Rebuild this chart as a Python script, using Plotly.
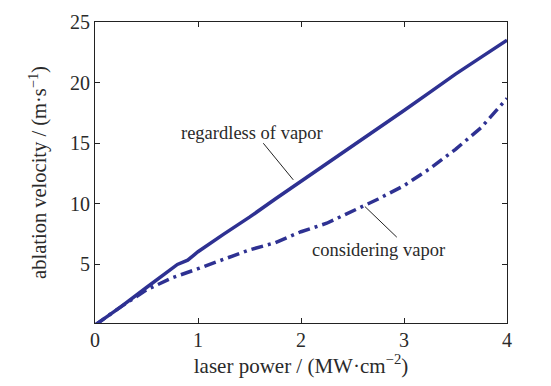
import plotly.graph_objects as go

# Data
power = [0, 0.1, 0.25, 0.5, 0.75, 0.8, 0.9, 1.0, 1.25, 1.5, 1.75, 2.0, 2.25, 2.5, 2.75, 3.0, 3.25, 3.5, 3.75, 4.0]
v_regardless = [0, 0.6, 1.5, 3.1, 4.7, 5.0, 5.35, 6.05, 7.5, 8.9, 10.4, 11.85, 13.3, 14.8, 16.2, 17.7, 19.2, 20.7, 22.1, 23.5]

power_c = [0, 0.1, 0.25, 0.5, 0.75, 1.0, 1.25, 1.5, 1.75, 2.0, 2.25, 2.5, 2.75, 3.0, 3.25, 3.5, 3.75, 4.0]
v_considering = [0, 0.6, 1.5, 2.9, 3.9, 4.65, 5.4, 6.2, 6.8, 7.7, 8.4, 9.4, 10.4, 11.5, 12.9, 14.5, 16.3, 18.7]

x_ticks = [0, 1, 2, 3, 4]
y_ticks = [5, 10, 15, 20, 25]

label_regardless = "regardless of vapor"
label_considering = "considering vapor"

color = "#2e3192"
serif = "Liberation Serif, Times New Roman, serif"
txt = "#2a2a2a"

fig = go.Figure()
fig.add_trace(go.Scatter(x=power, y=v_regardless, mode="lines",
                         line=dict(color=color, width=3.5), showlegend=False))
fig.add_trace(go.Scatter(x=power_c, y=v_considering, mode="lines",
                         line=dict(color=color, width=3.5, dash="12px,5px,3px,5px"),
                         showlegend=False))

# leader lines (data coordinates)
fig.add_shape(type="line", x0=1.634, y0=15.0, x1=1.925, y1=11.98, xref="x", yref="y",
              line=dict(color="#222222", width=1))
fig.add_shape(type="line", x0=2.93, y0=7.25, x1=2.62, y1=9.78, xref="x", yref="y",
              line=dict(color="#222222", width=1))

fig.add_annotation(x=1.524, y=15.87, text=label_regardless, showarrow=False,
                   font=dict(family=serif, size=18.5, color=txt))
fig.add_annotation(x=2.757, y=6.2, text=label_considering, showarrow=False,
                   font=dict(family=serif, size=18.5, color=txt))

axis_common = dict(showline=True, linecolor="#222222", linewidth=1, mirror="allticks",
                   ticks="inside", ticklen=5, tickcolor="#222222", showgrid=False,
                   zeroline=False, automargin=False,
                   tickfont=dict(family=serif, size=20, color=txt))

fig.update_xaxes(range=[0, 4], tickvals=x_ticks, ticktext=[str(v) for v in x_ticks],
                 ticklabelstandoff=-1,
                 title=dict(text="laser power / (MW·cm<sup>−2</sup>)",
                            font=dict(family=serif, size=21, color=txt), standoff=0),
                 **axis_common)
fig.update_yaxes(range=[0.17, 25], tickvals=y_ticks, ticktext=[str(v) for v in y_ticks],
                 title=dict(text="ablation velocity / (m·s<sup>−1</sup>)",
                            font=dict(family=serif, size=20.5, color=txt), standoff=17),
                 **axis_common)

# page draws the figure with an 8px body offset, so size/margins compensate
fig.update_layout(width=543, height=378, margin=dict(l=87, r=44, t=14, b=63),
                  plot_bgcolor="white", paper_bgcolor="white")

fig.write_html("out.html")
